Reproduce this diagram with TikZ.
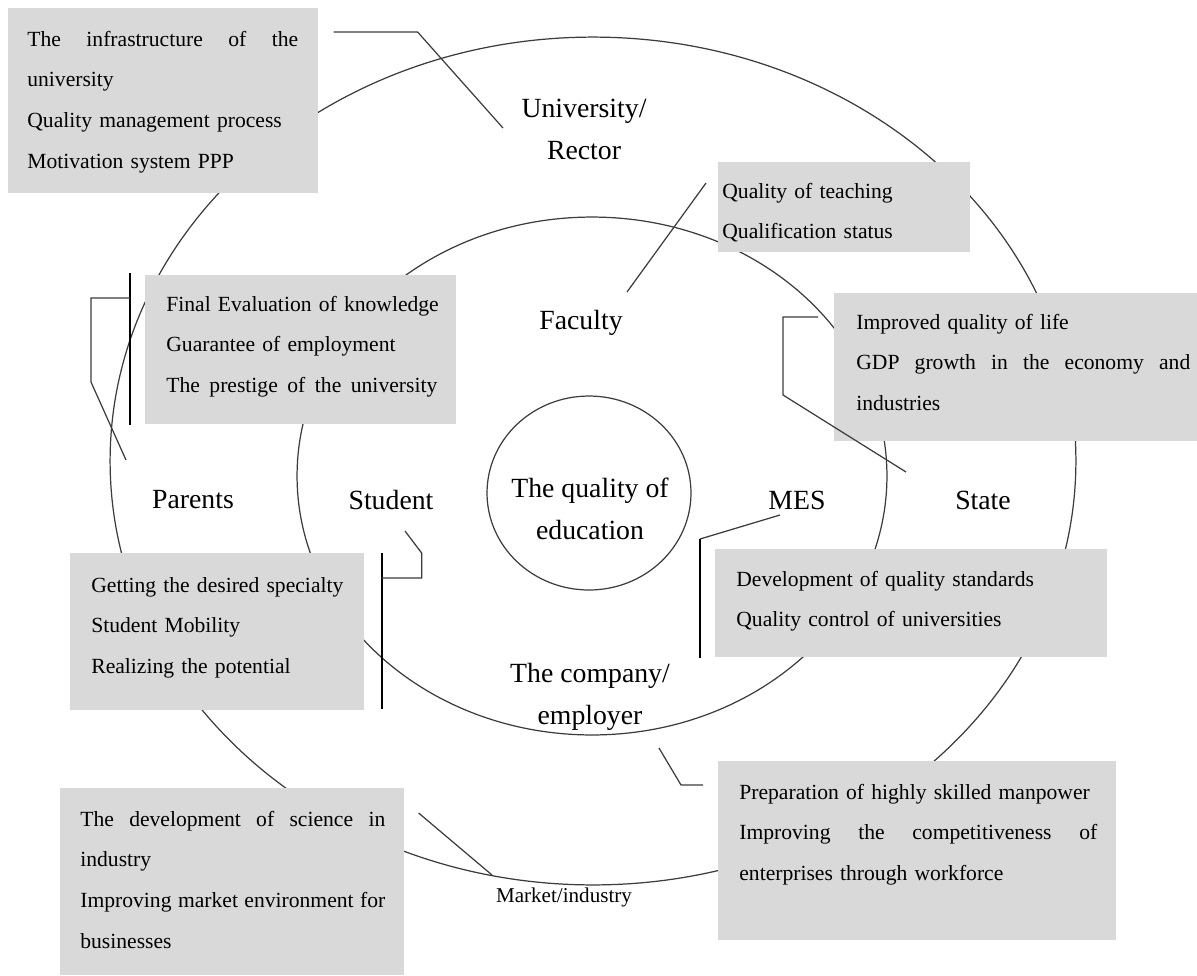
\documentclass[tikz,border=0pt]{standalone}
\usepackage{fontspec}
\setmainfont{Liberation Serif}
\usepackage{xcolor}
\usepackage{tikz}
\definecolor{boxgray}{RGB}{217,217,217}
\definecolor{inkgray}{RGB}{60,60,60}
\newcommand{\fullline}[2]{\makebox[#1][s]{\spaceskip=0.25em plus 1fil\relax #2}}

\begin{document}
\begin{tikzpicture}[x=0.02cm, y=-0.02cm,
    ring/.style={draw=inkgray, line width=0.7pt},
    link/.style={draw=inkgray, line width=0.7pt},
    bar/.style={draw=black, line width=1.1pt},
    box/.style={fill=boxgray, inner sep=0pt, anchor=north west},
    boxtext/.style={font=\fontsize{12.3}{23.3}\selectfont, align=left, inner sep=0pt, anchor=base west, text width=8cm},
    role/.style={font=\fontsize{15.8}{23.9}\selectfont, align=center, inner sep=1pt}]

  \useasboundingbox (0,0) rectangle (1197,975);

  \draw[ring] (593,461) ellipse [x radius=9.66cm, y radius=8.48cm];
  \draw[ring] (592,476) ellipse [x radius=5.9cm, y radius=5.18cm];
  \draw[ring] (589,493) ellipse [x radius=2.04cm, y radius=1.94cm];

  \node[box, minimum width=6.2cm, minimum height=3.7cm] (b1) at (8,8) {};
  \node[boxtext] (t1) at (27,46)
    {\fullline{5.42cm}{The infrastructure of the}\\university\\Quality management process\\Motivation system PPP};

  \node[box, minimum width=5.04cm, minimum height=1.8cm] (b2) at (718,162) {};
  \node[boxtext] (t2) at (722,198)
    {Quality of teaching\\Qualification status};

  \node[box, minimum width=6.22cm, minimum height=2.98cm] (b3) at (145,275) {};
  \node[boxtext] (t3) at (166,311)
    {Final Evaluation of knowledge\\Guarantee of employment\\\fullline{5.42cm}{The prestige of the university}};

  \node[box, minimum width=7.26cm, minimum height=2.96cm] (b4) at (834,293) {};
  \node[boxtext] (t4) at (856,329)
    {Improved quality of life\\\fullline{6.68cm}{GDP growth in the economy and}\\industries};

  \node[box, minimum width=5.88cm, minimum height=3.14cm] (b5) at (70,553) {};
  \node[boxtext] (t5) at (91,592)
    {Getting the desired specialty\\Student Mobility\\Realizing the potential};

  \node[box, minimum width=7.84cm, minimum height=2.16cm] (b6) at (715,549) {};
  \node[boxtext] (t6) at (736,586)
    {Development of quality standards\\Quality control of universities};

  \node[box, minimum width=6.88cm, minimum height=3.74cm] (b7) at (60,788) {};
  \node[boxtext] (t7) at (80,826)
    {\fullline{6.1cm}{The development of science in}\\industry\\\fullline{6.1cm}{Improving market environment for}\\businesses};

  \node[box, minimum width=7.96cm, minimum height=3.58cm] (b8) at (718,761) {};
  \node[boxtext] (t8) at (739,799)
    {Preparation of highly skilled manpower\\\fullline{7.16cm}{Improving the competitiveness of}\\enterprises through workforce};

  \node[role] (uni) at (584,129) {University/\\Rector};
  \node[role] (fac) at (581,323) {Faculty};
  \node[role] (par) at (193,500) {Parents};
  \node[role] (stu) at (391,500) {Student};
  \node[role] (mes) at (797,500) {MES};
  \node[role] (sta) at (983,500) {State};
  \node[role] (qe) at (590,509) {The quality of\\education};
  \node[role] (com) at (590,697) {The company/\\employer};
  \node[font=\fontsize{12}{14}\selectfont, inner sep=1pt] (mar) at (564,897) {Market/industry};

  \coordinate (e1) at (503,128);
  \coordinate (e2) at (627,292);
  \coordinate (e3) at (126,460);
  \coordinate (e4) at (405,531);
  \coordinate (e5) at (906,472);
  \coordinate (e6) at (780,515);
  \coordinate (e7) at (659,748);
  \coordinate (e8) at (492,875);

  \draw[link] ([shift={(15,24)}]b1.north east) -- ++(84,0) -- (e1);
  \draw[link] ([shift={(-12,21)}]b2.north west) -- (e2);
  \draw[bar] ([shift={(-15,-2)}]b3.north west) -- ([shift={(-15,0)}]b3.south west);
  \draw[link] ([shift={(-15,23)}]b3.north west) -- ++(-39,0) -- ++(0,84) -- (e3);
  \draw[bar] ([shift={(17,0)}]b5.north east) -- ([shift={(17,-2)}]b5.south east);
  \draw[link] ([shift={(17,25)}]b5.north east) -- ++(40,0) -- ++(0,-25) -- (e4);
  \draw[link] ([shift={(-16,24)}]b4.north west) -- ++(-35,0) -- ++(0,78) -- (e5);
  \draw[link] (e6) -- ([shift={(-15,-10)}]b6.north west);
  \draw[bar] ([shift={(-15,-10)}]b6.north west) -- ([shift={(-15,0)}]b6.south west);
  \draw[link] (e7) -- ++(22,37) -- ([shift={(-15,24)}]b8.north west);
  \draw[link] ([shift={(14,25)}]b7.north east) -- (e8);
\end{tikzpicture}
\end{document}
